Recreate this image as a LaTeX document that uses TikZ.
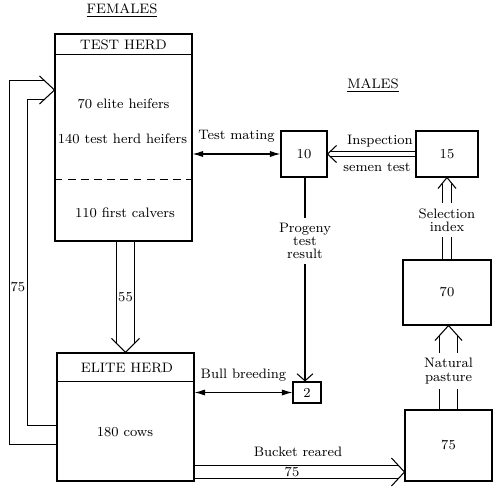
\documentclass[tikz,border=0pt]{standalone}
\usetikzlibrary{arrows.meta,calc,backgrounds}

\begin{document}
\begin{tikzpicture}[x=0.02cm, y=-0.02cm, semithick, >=Latex,
    font=\fontsize{7.8}{7.5}\selectfont,
    herd/.style={draw, inner sep=0pt, minimum width=2.74cm},
    pen/.style={draw, inner sep=0pt},
    flow/.style={double, double distance=#1, line join=miter},
    head/.style={line join=miter},
    gap/.style={fill=white, inner xsep=1pt, inner ysep=3pt, align=center},
    mate/.style={{Latex[length=6pt,width=3.5pt]}-{Latex[length=6pt,width=3.5pt]}}]
  \useasboundingbox (0,0) rectangle (500,493);
  % females
  \node (fem) at (122,11) {\underline{FEMALES}};
  \node[herd, minimum height=4.14cm] (test) at (123.5,137.5) {};
  \draw ($(test.north west)+(0,21)$) -- ($(test.north east)+(0,21)$);
  \draw[dash pattern=on 4.5pt off 3pt] ($(test.north west)+(0,146)$) -- ($(test.north east)+(0,146)$);
  \node (testhd) at (123.5,45) {TEST HERD};
  \node (elitehf) at (123.5,104) {70 elite heifers};
  \node (testhf) at (122.5,139) {140 test herd heifers};
  \node (calvers) at (125,213) {110 first calvers};
  \node[herd, minimum height=2.56cm] (elite) at (125.5,417) {};
  \draw ($(elite.north west)+(0,29)$) -- ($(elite.north east)+(0,29)$);
  \node (elitehd) at (127,368) {ELITE HERD};
  \node (cows) at (125,432) {180 cows};
  % males
  \node (mal) at (373,86) {\underline{MALES}};
  \node[pen, minimum size=0.92cm] (ten) at (304,154) {10};
  \node[pen, minimum width=1.24cm, minimum height=0.92cm] (fifteen) at (447,154) {15};
  \node[pen, minimum width=1.76cm, minimum height=1.3cm] (seventy) at (447,292.5) {70};
  \node[pen, minimum width=1.74cm, minimum height=1.42cm] (bucket) at (448.5,445.5) {75};
  \node[pen, minimum width=0.56cm, minimum height=0.42cm] (two) at (307,392.5) {2};
  % matings
  \draw[mate] (ten.west -| test.east) -- node[above=3pt] (matelbl) {Test mating} (ten.west);
  \draw[mate] (two.west -| elite.east) -- node[above=3pt] (breedlbl) {Bull breeding} (two.west);
  \draw[-{Straight Barb[length=4pt,width=9pt]}] (ten.south -| 305,0) -- (two.north -| 305,0);
  \node[gap] (progeny) at (305,241) {Progeny\\test\\result};
  % hollow flows
  \coordinate (btip) at (bucket.west |- 0,472);
  \coordinate (ntip) at (seventy.south -| bucket.north);
  \coordinate (ltip) at (test.west |- 0,90);
  \begin{scope}[on background layer]
    \draw[flow=9.6pt] (elite.north |- test.south) -- ($(elite.north)+(0,-9)$);
    \draw[flow=7.3pt] (btip -| elite.east) -- ($(btip)+(-6.5,0)$);
    \draw[flow=10.2pt] (bucket.north) -- ($(ntip)+(0,10.6)$);
    \draw[flow=5.1pt] (seventy.north) -- ($(fifteen.south)+(0,6)$);
    \draw[flow=2.2pt] (fifteen.west) -- ($(ten.east)+(2.6,0)$);
    \draw[flow=10.2pt] (elite.west |- 0,435) -- (18.5,435) -- (18.5,90) -- ($(ltip)+(-9.7,0)$);
  \end{scope}
  \draw[head] ($(elite.north)+(-14,-14)$) -- (elite.north) -- ($(elite.north)+(14,-14)$);
  \draw[head] ($(btip)+(-13,-14)$) -- (btip) -- ($(btip)+(-13,14)$);
  \draw[head] ($(ntip)+(-13.5,15)$) -- (ntip) -- ($(ntip)+(13.5,15)$);
  \draw[head] ($(fifteen.south)+(-9,11)$) -- (fifteen.south) -- ($(fifteen.south)+(9,11)$);
  \draw[head] ($(ten.east)+(9,-8.5)$) -- (ten.east) -- ($(ten.east)+(9,8.5)$);
  \draw[head] ($(ltip)+(-15,-14)$) -- (ltip) -- ($(ltip)+(-15,14)$);
  % flow labels
  \node (fiftyfive) at (125.5,297) {55};
  \node (reared) at (298,452) {Bucket reared};
  \node (reared75) at (292,472) {75};
  \node[gap] (pasture) at (448.5,371) {Natural\\pasture};
  \node[gap] (index) at (447,220) {Selection\\index};
  \node (inspect) at (380,141) {Inspection};
  \node (semen) at (377,167) {semen test};
  \node (loop75) at (18,287) {75};
\end{tikzpicture}
\end{document}
